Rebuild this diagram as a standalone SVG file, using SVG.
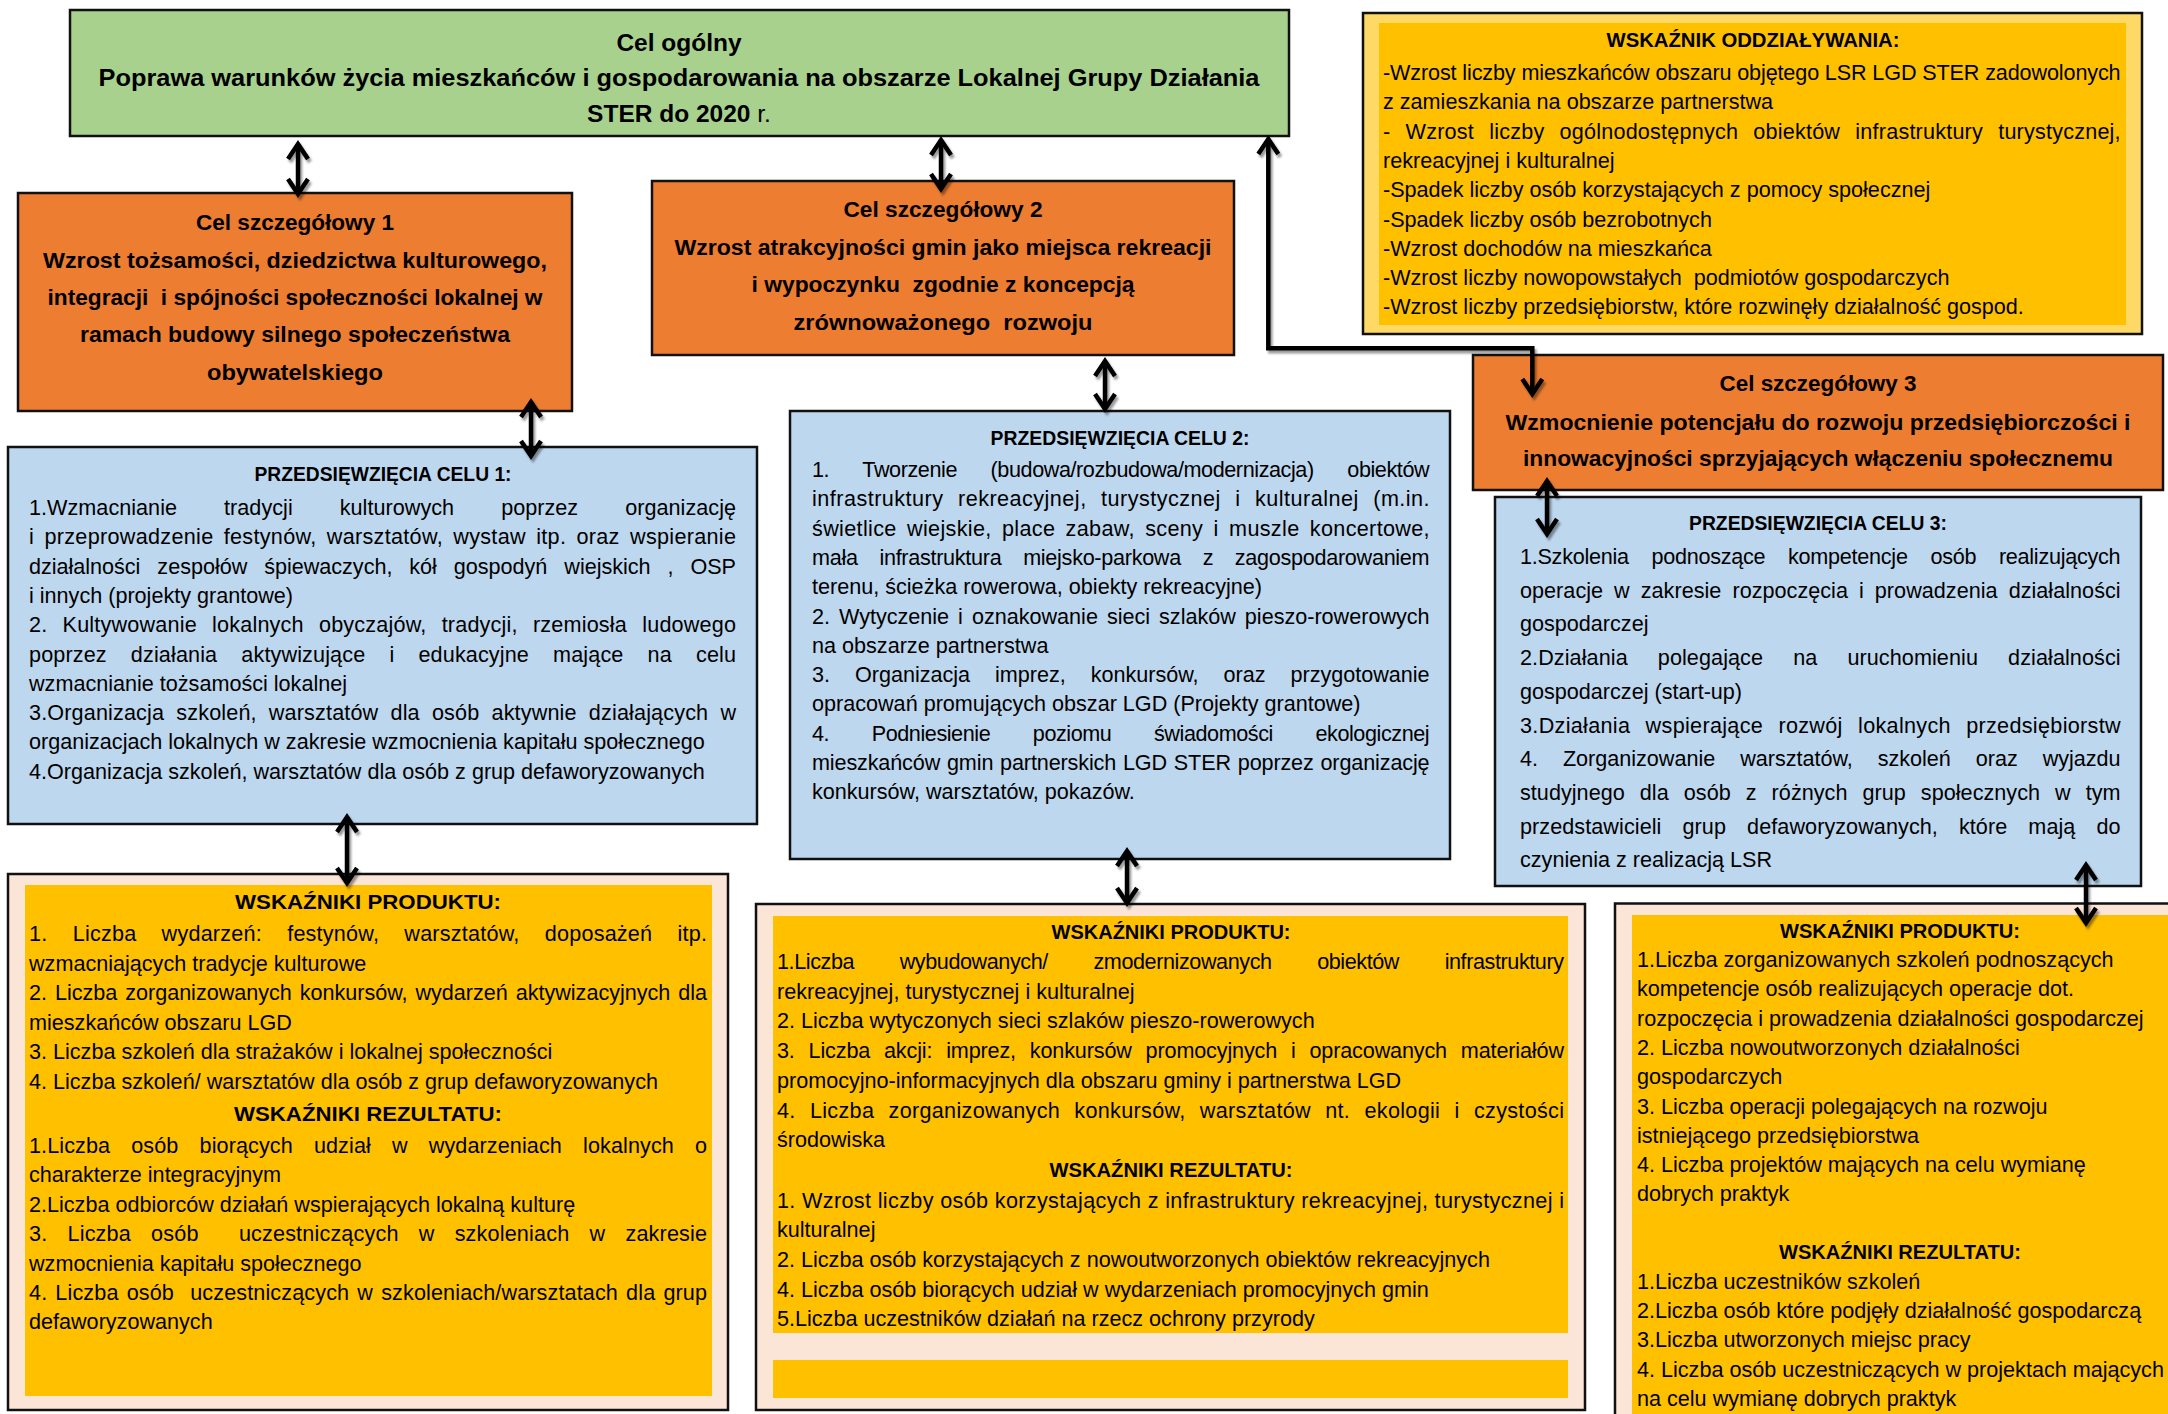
<svg xmlns="http://www.w3.org/2000/svg" width="2168" height="1414" viewBox="0 0 2168 1414">
<style>
text{font-family:"Liberation Sans",Arial,sans-serif;fill:#000;white-space:pre}
.b{font-size:21.6px}
.h{font-size:20px;font-weight:bold;text-anchor:middle}
.c{font-size:22.5px;font-weight:bold;text-anchor:middle}
.g{font-size:24.5px;font-weight:bold;text-anchor:middle}
.bx{stroke:#111;stroke-width:2.5}
.green{fill:#A9D18E}.orange{fill:#ED7D31}.blue{fill:#BDD7EE}.gold{fill:#FFC000}.lgold{fill:#FFD966}.peach{fill:#FBE5D6}
.ln{fill:none;stroke:#000;stroke-width:4.5;stroke-linejoin:miter;marker-start:url(#ah);marker-end:url(#ah)}
</style>
<defs>
<marker id="ah" viewBox="-18 -14 24 28" refX="0" refY="0" markerWidth="24" markerHeight="28" markerUnits="userSpaceOnUse" orient="auto-start-reverse">
<path d="M-15,-10 L0,0 L-15,10" fill="none" stroke="#000" stroke-width="4.5" stroke-linejoin="miter"/>
</marker>
<filter id="sh" x="-20%" y="-20%" width="140%" height="140%">
<feDropShadow dx="2" dy="3" stdDeviation="1.2" flood-color="#000" flood-opacity="0.4"/>
</filter>
</defs>

<g id="cel-ogolny">
<rect class="bx green" x="70" y="10" width="1219" height="126"/>
<text class="g" x="679" y="50.5">Cel ogólny</text>
<text class="g" x="679" y="85.5" textLength="1161" lengthAdjust="spacingAndGlyphs">Poprawa warunków życia mieszkańców i gospodarowania na obszarze Lokalnej Grupy Działania</text>
<text class="g" x="679" y="121.5">STER do 2020 <tspan font-weight="normal">r.</tspan></text>
</g>

<g id="wskaznik-oddzialywania">
<rect class="bx lgold" x="1363" y="13" width="779" height="321"/>
<rect class="gold" x="1379" y="23" width="747" height="302"/>
<text class="h" x="1753" y="47" textLength="293" lengthAdjust="spacingAndGlyphs">WSKAŹNIK ODDZIAŁYWANIA:</text>
<text class="b" x="1383" y="80" textLength="737.6" lengthAdjust="spacing">-Wzrost liczby mieszkańców obszaru objętego LSR LGD STER zadowolonych</text>
<text class="b" x="1383" y="109.3">z zamieszkania na obszarze partnerstwa</text>
<text class="b" x="1383" y="138.6" textLength="737.6" lengthAdjust="spacing" style="word-spacing:9px">- Wzrost liczby ogólnodostępnych obiektów infrastruktury turystycznej,</text>
<text class="b" x="1383" y="167.9">rekreacyjnej i kulturalnej</text>
<text class="b" x="1383" y="197.2">-Spadek liczby osób korzystających z pomocy społecznej</text>
<text class="b" x="1383" y="226.5">-Spadek liczby osób bezrobotnych</text>
<text class="b" x="1383" y="255.8">-Wzrost dochodów na mieszkańca</text>
<text class="b" x="1383" y="285.1">-Wzrost liczby nowopowstałych  podmiotów gospodarczych</text>
<text class="b" x="1383" y="314.4">-Wzrost liczby przedsiębiorstw, które rozwinęły działalność gospod.</text>
</g>

<g id="cel-1">
<rect class="bx orange" x="18" y="193" width="554" height="218"/>
<text class="c" x="295" y="230" textLength="198" lengthAdjust="spacingAndGlyphs">Cel szczegółowy 1</text>
<text class="c" x="295" y="268" textLength="504" lengthAdjust="spacingAndGlyphs">Wzrost tożsamości, dziedzictwa kulturowego,</text>
<text class="c" x="295" y="305" textLength="495" lengthAdjust="spacingAndGlyphs">integracji  i spójności społeczności lokalnej w</text>
<text class="c" x="295" y="342" textLength="430" lengthAdjust="spacingAndGlyphs">ramach budowy silnego społeczeństwa</text>
<text class="c" x="295" y="380" textLength="176" lengthAdjust="spacingAndGlyphs">obywatelskiego</text>
</g>

<g id="cel-2">
<rect class="bx orange" x="652" y="181" width="582" height="174"/>
<text class="c" x="943" y="217" textLength="199" lengthAdjust="spacingAndGlyphs">Cel szczegółowy 2</text>
<text class="c" x="943" y="255" textLength="537" lengthAdjust="spacingAndGlyphs">Wzrost atrakcyjności gmin jako miejsca rekreacji</text>
<text class="c" x="943" y="292" textLength="383" lengthAdjust="spacingAndGlyphs">i wypoczynku  zgodnie z koncepcją</text>
<text class="c" x="943" y="330" textLength="299" lengthAdjust="spacingAndGlyphs">zrównoważonego  rozwoju</text>
</g>

<g id="cel-3">
<rect class="bx orange" x="1473" y="355" width="690" height="135"/>
<text class="c" x="1818" y="391" textLength="197" lengthAdjust="spacingAndGlyphs">Cel szczegółowy 3</text>
<text class="c" x="1818" y="430" textLength="625" lengthAdjust="spacingAndGlyphs">Wzmocnienie potencjału do rozwoju przedsiębiorczości i</text>
<text class="c" x="1818" y="466" textLength="590" lengthAdjust="spacingAndGlyphs">innowacyjności sprzyjających włączeniu społecznemu</text>
</g>

<g id="przedsiewziecia-1">
<rect class="bx blue" x="8" y="447" width="749" height="377"/>
<text class="h" x="383" y="481" textLength="257" lengthAdjust="spacingAndGlyphs">PRZEDSIĘWZIĘCIA CELU 1:</text>
<text class="b" x="29" y="515" textLength="707" lengthAdjust="spacing" style="word-spacing:41px">1.Wzmacnianie tradycji kulturowych poprzez organizację</text>
<text class="b" x="29" y="544.3" textLength="707" lengthAdjust="spacing" style="word-spacing:4px">i przeprowadzenie festynów, warsztatów, wystaw itp. oraz wspieranie</text>
<text class="b" x="29" y="573.6" textLength="707" lengthAdjust="spacing" style="word-spacing:11px">działalności zespołów śpiewaczych, kół gospodyń wiejskich , OSP</text>
<text class="b" x="29" y="602.9">i innych (projekty grantowe)</text>
<text class="b" x="29" y="632.2" textLength="707" lengthAdjust="spacing" style="word-spacing:9px">2. Kultywowanie lokalnych obyczajów, tradycji, rzemiosła ludowego</text>
<text class="b" x="29" y="661.5" textLength="707" lengthAdjust="spacing" style="word-spacing:18px">poprzez działania aktywizujące i edukacyjne mające na celu</text>
<text class="b" x="29" y="690.8">wzmacnianie tożsamości lokalnej</text>
<text class="b" x="29" y="720.1" textLength="707" lengthAdjust="spacing" style="word-spacing:6px">3.Organizacja szkoleń, warsztatów dla osób aktywnie działających w</text>
<text class="b" x="29" y="749.4">organizacjach lokalnych w zakresie wzmocnienia kapitału społecznego</text>
<text class="b" x="29" y="778.7">4.Organizacja szkoleń, warsztatów dla osób z grup defaworyzowanych</text>
</g>

<g id="przedsiewziecia-2">
<rect class="bx blue" x="790" y="411" width="660" height="448"/>
<text class="h" x="1120" y="445" textLength="259" lengthAdjust="spacingAndGlyphs">PRZEDSIĘWZIĘCIA CELU 2:</text>
<text class="b" x="812" y="477" textLength="617.6" lengthAdjust="spacing" style="word-spacing:28px">1. Tworzenie (budowa/rozbudowa/modernizacja) obiektów</text>
<text class="b" x="812" y="506.3" textLength="617.6" lengthAdjust="spacing" style="word-spacing:8px">infrastruktury rekreacyjnej, turystycznej i kulturalnej (m.in.</text>
<text class="b" x="812" y="535.6" textLength="617.6" lengthAdjust="spacing" style="word-spacing:4px">świetlice wiejskie, place zabaw, sceny i muszle koncertowe,</text>
<text class="b" x="812" y="564.9" textLength="617.6" lengthAdjust="spacing" style="word-spacing:16px">mała infrastruktura miejsko-parkowa z zagospodarowaniem</text>
<text class="b" x="812" y="594.2">terenu, ścieżka rowerowa, obiekty rekreacyjne)</text>
<text class="b" x="812" y="623.5" textLength="617.6" lengthAdjust="spacing" style="word-spacing:3px">2. Wytyczenie i oznakowanie sieci szlaków pieszo-rowerowych</text>
<text class="b" x="812" y="652.8">na obszarze partnerstwa</text>
<text class="b" x="812" y="682.1" textLength="617.6" lengthAdjust="spacing" style="word-spacing:19px">3. Organizacja imprez, konkursów, oraz przygotowanie</text>
<text class="b" x="812" y="711.4">opracowań promujących obszar LGD (Projekty grantowe)</text>
<text class="b" x="812" y="740.7" textLength="617.6" lengthAdjust="spacing" style="word-spacing:37px">4. Podniesienie poziomu świadomości ekologicznej</text>
<text class="b" x="812" y="770" textLength="617.6" lengthAdjust="spacing" style="word-spacing:1px">mieszkańców gmin partnerskich LGD STER poprzez organizację</text>
<text class="b" x="812" y="799.3">konkursów, warsztatów, pokazów.</text>
</g>

<g id="przedsiewziecia-3">
<rect class="bx blue" x="1495" y="497" width="646" height="389"/>
<text class="h" x="1818" y="530" textLength="258" lengthAdjust="spacingAndGlyphs">PRZEDSIĘWZIĘCIA CELU 3:</text>
<text class="b" x="1520" y="564" textLength="600.6" lengthAdjust="spacing" style="word-spacing:17px">1.Szkolenia podnoszące kompetencje osób realizujących</text>
<text class="b" x="1520" y="597.7" textLength="600.6" lengthAdjust="spacing" style="word-spacing:5px">operacje w zakresie rozpoczęcia i prowadzenia działalności</text>
<text class="b" x="1520" y="631.4">gospodarczej</text>
<text class="b" x="1520" y="665.1" textLength="600.6" lengthAdjust="spacing" style="word-spacing:24px">2.Działania polegające na uruchomieniu działalności</text>
<text class="b" x="1520" y="698.8">gospodarczej (start-up)</text>
<text class="b" x="1520" y="732.5" textLength="600.6" lengthAdjust="spacing" style="word-spacing:9px">3.Działania wspierające rozwój lokalnych przedsiębiorstw</text>
<text class="b" x="1520" y="766.2" textLength="600.6" lengthAdjust="spacing" style="word-spacing:19px">4. Zorganizowanie warsztatów, szkoleń oraz wyjazdu</text>
<text class="b" x="1520" y="799.9" textLength="600.6" lengthAdjust="spacing" style="word-spacing:9px">studyjnego dla osób z różnych grup społecznych w tym</text>
<text class="b" x="1520" y="833.6" textLength="600.6" lengthAdjust="spacing" style="word-spacing:15px">przedstawicieli grup defaworyzowanych, które mają do</text>
<text class="b" x="1520" y="867.3">czynienia z realizacją LSR</text>
</g>

<g id="wskazniki-1">
<rect class="bx peach" x="8" y="874" width="720" height="536"/>
<rect class="gold" x="25" y="885" width="687" height="511"/>
<text class="h" x="368" y="909" textLength="266" lengthAdjust="spacingAndGlyphs" font-size="22">WSKAŹNIKI PRODUKTU:</text>
<text class="b" x="29" y="941" textLength="678" lengthAdjust="spacing" style="word-spacing:19px">1. Liczba wydarzeń: festynów, warsztatów, doposażeń itp.</text>
<text class="b" x="29" y="970.5">wzmacniających tradycje kulturowe</text>
<text class="b" x="29" y="1000" textLength="678" lengthAdjust="spacing" style="word-spacing:2px">2. Liczba zorganizowanych konkursów, wydarzeń aktywizacyjnych dla</text>
<text class="b" x="29" y="1029.5">mieszkańców obszaru LGD</text>
<text class="b" x="29" y="1059">3. Liczba szkoleń dla strażaków i lokalnej społeczności</text>
<text class="b" x="29" y="1088.5">4. Liczba szkoleń/ warsztatów dla osób z grup defaworyzowanych</text>
<text class="h" x="368" y="1121" textLength="268" lengthAdjust="spacingAndGlyphs" font-size="22">WSKAŹNIKI REZULTATU:</text>
<text class="b" x="29" y="1153" textLength="678" lengthAdjust="spacing" style="word-spacing:15px">1.Liczba osób biorących udział w wydarzeniach lokalnych o</text>
<text class="b" x="29" y="1182.4">charakterze integracyjnym</text>
<text class="b" x="29" y="1211.8">2.Liczba odbiorców działań wspierających lokalną kulturę</text>
<text class="b" x="29" y="1241.2" textLength="678" lengthAdjust="spacing" style="word-spacing:14px">3. Liczba osób  uczestniczących w szkoleniach w zakresie</text>
<text class="b" x="29" y="1270.6">wzmocnienia kapitału społecznego</text>
<text class="b" x="29" y="1300" textLength="678" lengthAdjust="spacing" style="word-spacing:2px">4. Liczba osób  uczestniczących w szkoleniach/warsztatach dla grup</text>
<text class="b" x="29" y="1329.4">defaworyzowanych</text>
</g>

<g id="wskazniki-2">
<rect class="bx peach" x="756" y="904" width="829" height="506"/>
<rect class="gold" x="773" y="916" width="795" height="417"/>
<rect class="gold" x="773" y="1360" width="795" height="38"/>
<text class="h" x="1171" y="939" textLength="239" lengthAdjust="spacingAndGlyphs">WSKAŹNIKI PRODUKTU:</text>
<text class="b" x="777" y="969" textLength="787" lengthAdjust="spacing" style="word-spacing:40px">1.Liczba wybudowanych/ zmodernizowanych obiektów infrastruktury</text>
<text class="b" x="777" y="998.7">rekreacyjnej, turystycznej i kulturalnej</text>
<text class="b" x="777" y="1028.4">2. Liczba wytyczonych sieci szlaków pieszo-rowerowych</text>
<text class="b" x="777" y="1058.1" textLength="787" lengthAdjust="spacing" style="word-spacing:8px">3. Liczba akcji: imprez, konkursów promocyjnych i opracowanych materiałów</text>
<text class="b" x="777" y="1087.8">promocyjno-informacyjnych dla obszaru gminy i partnerstwa LGD</text>
<text class="b" x="777" y="1117.5" textLength="787" lengthAdjust="spacing" style="word-spacing:8px">4. Liczba zorganizowanych konkursów, warsztatów nt. ekologii i czystości</text>
<text class="b" x="777" y="1147.2">środowiska</text>
<text class="h" x="1171" y="1177" textLength="243" lengthAdjust="spacingAndGlyphs">WSKAŹNIKI REZULTATU:</text>
<text class="b" x="777" y="1207.6" textLength="787" lengthAdjust="spacing">1. Wzrost liczby osób korzystających z infrastruktury rekreacyjnej, turystycznej i</text>
<text class="b" x="777" y="1237.3">kulturalnej</text>
<text class="b" x="777" y="1267">2. Liczba osób korzystających z nowoutworzonych obiektów rekreacyjnych</text>
<text class="b" x="777" y="1296.7">4. Liczba osób biorących udział w wydarzeniach promocyjnych gmin</text>
<text class="b" x="777" y="1326.4">5.Liczba uczestników działań na rzecz ochrony przyrody</text>
</g>

<g id="wskazniki-3">
<rect class="bx peach" x="1615" y="903.5" width="600" height="560"/>
<rect class="gold" x="1632" y="915" width="560" height="520"/>
<text class="h" x="1900" y="938" textLength="240" lengthAdjust="spacingAndGlyphs">WSKAŹNIKI PRODUKTU:</text>
<text class="b" x="1637" y="967">1.Liczba zorganizowanych szkoleń podnoszących</text>
<text class="b" x="1637" y="996.3">kompetencje osób realizujących operacje dot.</text>
<text class="b" x="1637" y="1025.6">rozpoczęcia i prowadzenia działalności gospodarczej</text>
<text class="b" x="1637" y="1054.9">2. Liczba nowoutworzonych działalności</text>
<text class="b" x="1637" y="1084.2">gospodarczych</text>
<text class="b" x="1637" y="1113.5">3. Liczba operacji polegających na rozwoju</text>
<text class="b" x="1637" y="1142.8">istniejącego przedsiębiorstwa</text>
<text class="b" x="1637" y="1172.1">4. Liczba projektów mających na celu wymianę</text>
<text class="b" x="1637" y="1201.4">dobrych praktyk</text>
<text class="h" x="1900" y="1259" textLength="242" lengthAdjust="spacingAndGlyphs">WSKAŹNIKI REZULTATU:</text>
<text class="b" x="1637" y="1288.5">1.Liczba uczestników szkoleń</text>
<text class="b" x="1637" y="1317.9">2.Liczba osób które podjęły działalność gospodarczą</text>
<text class="b" x="1637" y="1347.3">3.Liczba utworzonych miejsc pracy</text>
<text class="b" x="1637" y="1376.7">4. Liczba osób uczestniczących w projektach mających</text>
<text class="b" x="1637" y="1406.1">na celu wymianę dobrych praktyk</text>
</g>

<g id="connectors" filter="url(#sh)">
<path class="ln" d="M298,144 V194"/>
<path class="ln" d="M941,140 V189"/>
<path class="ln" d="M1105,361 V409"/>
<path class="ln" d="M531,402 V456"/>
<path class="ln" d="M347,817 V883"/>
<path class="ln" d="M1127,851 V903"/>
<path class="ln" d="M1547,481 V534"/>
<path class="ln" d="M2086,865 V923"/>
<path class="ln" d="M1268.3,139 V348.3 H1532.3 V394"/>
</g>
</svg>
